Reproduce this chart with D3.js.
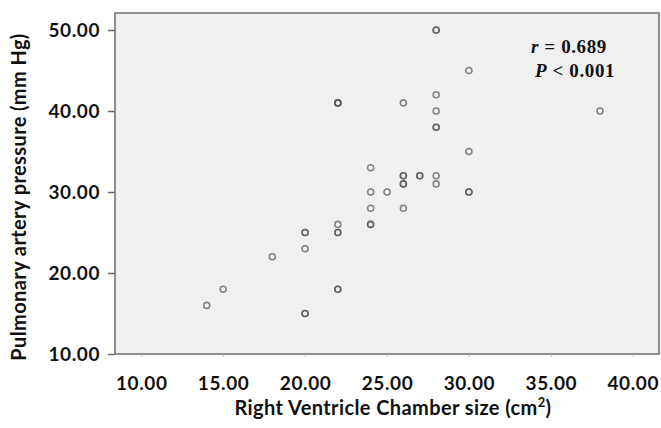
<!DOCTYPE html>
<html>
<head>
<meta charset="utf-8">
<script src="https://cdn.jsdelivr.net/npm/d3@7"></script>
<style>
  body { margin: 0; background: #fff; }
  svg { display: block; }
  .tick text { font-family: Lato, "Open Sans", sans-serif; font-weight: bold; font-size: 19px; letter-spacing: 0.6px; fill: #111; }
  .axis-title { font-family: Lato, "Open Sans", sans-serif; font-weight: bold; font-size: 20px; letter-spacing: 0.4px; fill: #111; }
  .stat { font-family: "Liberation Serif", serif; font-weight: bold; font-size: 19px; letter-spacing: 0.6px; fill: #111; }
</style>
</head>
<body>
<svg id="chart" width="661" height="428"></svg>
<script>
"use strict";
// chamber size (cm2) and pulmonary artery pressure (mmHg), repeated pairs are overlapping cases
const chamberSize = [14, 15, 18, 20, 20, 20, 20, 20, 22, 22, 22, 22, 22, 22, 22, 22,
    24, 24, 24, 24, 24, 25, 26, 26, 26, 26, 26, 26, 27, 27, 28, 28, 28, 28, 28, 28, 28, 28, 30, 30, 30, 30, 38];
const pressure = [16, 18, 22, 15, 15, 23, 25, 25, 18, 18, 25, 25, 26, 41, 41, 41,
    26, 26, 28, 30, 33, 30, 28, 31, 31, 32, 32, 41, 32, 32, 31, 32, 38, 38, 40, 42, 50, 50, 30, 30, 35, 45, 40];
const xTicks = [10, 15, 20, 25, 30, 35, 40];
const yTicks = [10, 20, 30, 40, 50];
const xLabel = "Right Ventricle Chamber size (cm";
const yLabel = "Pulmonary artery pressure (mm Hg)";

const margin = { left: 115, top: 13, right: 2, bottom: 74 };
const svg = d3.select("#chart");
const width = +svg.attr("width");
const height = +svg.attr("height");
const plotW = width - margin.left - margin.right;
const plotH = height - margin.top - margin.bottom;

const x = d3.scaleLinear().domain([8.4, 41.6]).range([0, plotW]);
const y = d3.scaleLinear().domain([10, 52.1]).range([plotH, 0]);

const g = svg.append("g").attr("transform", `translate(${margin.left},${margin.top})`);

g.append("rect")
    .attr("width", plotW).attr("height", plotH)
    .attr("fill", "#f0f0f0")
    .attr("stroke", "#6e6e6e").attr("stroke-width", 1.5);

const xAxis = g.append("g")
    .attr("transform", `translate(0,${plotH})`)
    .call(d3.axisBottom(x).tickValues(xTicks).tickFormat(d3.format(".2f")).tickSize(3).tickPadding(20));
xAxis.select(".domain").remove();
xAxis.selectAll("line").attr("stroke", "#bbb");

const yAxis = g.append("g")
    .call(d3.axisLeft(y).tickValues(yTicks).tickFormat(d3.format(".2f")).tickSize(7).tickPadding(8));
yAxis.select(".domain").remove();
yAxis.selectAll("line").attr("stroke", "#666").attr("stroke-width", 1.5);
yAxis.selectAll("text").attr("dy", "0.34em");

const points = chamberSize.map((v, i) => ({ cx: v, py: pressure[i] }));
g.append("g").selectAll("circle")
    .data(points)
    .join("circle")
    .attr("cx", (d) => x(d.cx))
    .attr("cy", (d) => y(d.py))
    .attr("r", 3)
    .attr("fill", "none")
    .attr("stroke", "#555")
    .attr("stroke-opacity", 0.7)
    .attr("stroke-width", 1.6);

const xt = svg.append("text")
    .attr("class", "axis-title")
    .attr("x", margin.left + plotW / 2 + 6)
    .attr("y", 415)
    .attr("letter-spacing", "0.9px")
    .attr("text-anchor", "middle");
xt.append("tspan").text(xLabel);
xt.append("tspan").attr("dy", -8).attr("font-size", 13).text("2");
xt.append("tspan").attr("dy", 8).text(")");

svg.append("text")
    .attr("class", "axis-title")
    .attr("transform", `translate(26,${margin.top + 184}) rotate(-90)`)
    .attr("letter-spacing", "0.6px")
    .attr("text-anchor", "middle")
    .text(yLabel);

const st1 = svg.append("text").attr("class", "stat").attr("x", 531).attr("y", 53);
st1.append("tspan").attr("font-style", "italic").text("r");
st1.append("tspan").text(" = 0.689");
const st2 = svg.append("text").attr("class", "stat").attr("x", 535).attr("y", 77);
st2.append("tspan").attr("font-style", "italic").text("P");
st2.append("tspan").text(" < 0.001");
</script>
</body>
</html>
